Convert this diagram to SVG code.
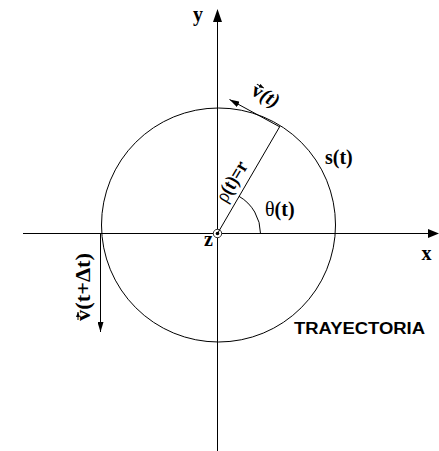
<svg xmlns="http://www.w3.org/2000/svg" width="439" height="451" viewBox="0 0 439 451">
<style>
.ln{stroke:#000;stroke-width:1;fill:none}
.bs{font-family:"Liberation Serif","Times New Roman",serif;font-weight:bold;font-size:20px;fill:#000}
.rs{font-weight:normal}
.it{font-style:italic}
.sans{font-family:"Liberation Sans",Arial,sans-serif;font-weight:bold;font-size:16px;fill:#000}
</style>
<defs>
<marker id="ah" markerWidth="10" markerHeight="6" refX="10" refY="3" orient="auto" markerUnits="userSpaceOnUse">
<path d="M0,0 L10,3 L0,6 Z" fill="#000"/>
</marker>
<marker id="sa" markerWidth="5" markerHeight="4" refX="5" refY="2" orient="auto" markerUnits="userSpaceOnUse">
<path d="M0,0 L5,2 L0,4 Z" fill="#000"/>
</marker>
</defs>
<rect width="439" height="451" fill="#fff"/>
<g id="axes">
<line class="ln" x1="23" y1="233.5" x2="429" y2="233.5"/>
<path d="M439,233.5 L428,229 L428,238 Z" fill="#000"/>
<line class="ln" x1="217.5" y1="451" x2="217.5" y2="21"/>
<path d="M217.5,9 L213,22 L222,22 Z" fill="#000"/>
<text class="bs" x="193" y="21">y</text>
<text class="bs" x="421.5" y="260">x</text>
<text class="bs" x="204" y="246">z</text>
</g>
<g id="trajectory">
<circle class="ln" cx="218.5" cy="225" r="117"/>
<text class="sans" x="294" y="333.7" textLength="131" lengthAdjust="spacingAndGlyphs">TRAYECTORIA</text>
<text class="bs" x="325" y="164">s(t)</text>
</g>
<g id="origin">
<circle cx="217.5" cy="233.5" r="4.2" fill="#fff" stroke="#000" stroke-width="0.8"/>
<circle cx="217.5" cy="233.5" r="1.8" fill="#000"/>
</g>
<g id="connectors">
<line class="ln" x1="217.5" y1="233.5" x2="279.8" y2="126.5"/>
<path class="ln" d="M260.5,233.5 A43,43 0 0,0 239,196.3"/>
<line class="ln" x1="280" y1="127" x2="229.5" y2="99.5" marker-end="url(#ah)"/>
<line class="ln" x1="100.5" y1="234" x2="100.5" y2="332" marker-end="url(#ah)"/>
</g>
<g id="labels">
<text class="bs" x="265" y="216"><tspan class="rs">θ</tspan>(t)</text>
<g transform="translate(233,182) rotate(-59)">
<text class="bs" x="0" y="5" text-anchor="middle" font-size="18" textLength="44" lengthAdjust="spacingAndGlyphs"><tspan class="rs">ρ</tspan>(t)=r</text>
</g>
<g transform="translate(250,94) rotate(30)">
<text class="bs" x="0" y="0" font-size="19">v<tspan class="it">(t)</tspan></text>
<line x1="1" y1="-12" x2="9" y2="-12" stroke="#000" stroke-width="1" marker-end="url(#sa)"/>
</g>
<g transform="translate(90,321) rotate(-90)">
<text class="bs" x="0" y="0" textLength="68" lengthAdjust="spacingAndGlyphs">v(t+Δt)</text>
<line x1="1" y1="-12" x2="9" y2="-12" stroke="#000" stroke-width="1" marker-end="url(#sa)"/>
</g>
</g>
</svg>
